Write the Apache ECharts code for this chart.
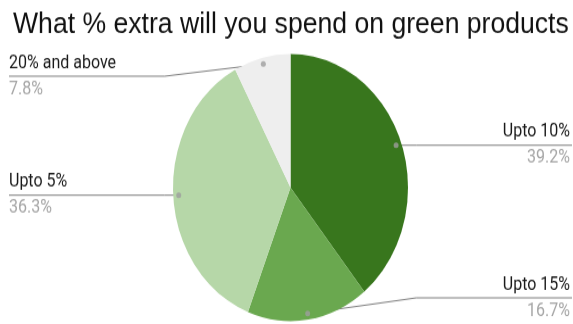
<!DOCTYPE html>
<html>
<head>
<meta charset="utf-8">
<script src="https://cdn.jsdelivr.net/npm/echarts@6/dist/echarts.min.js"></script>
<style>
  html, body { margin: 0; padding: 0; background: #fff; overflow: hidden; }
  #wrap { width: 573px; height: 324px; overflow: hidden; }
  /* chart is laid out at 573x285 and stretched to the page height */
  #chart { width: 573px; height: 285px; transform: scaleY(1.1368); transform-origin: 0 0; }
</style>
</head>
<body>
<div id="wrap"><div id="chart"></div></div>
<script>
const titleText = 'What % extra will you spend on green products';
const categories = ['Upto 10%', 'Upto 15%', 'Upto 5%', '20% and above'];
const shares = [39.2, 16.7, 36.3, 7.8];
const sliceColors = ['#38761d', '#6aa84f', '#b6d7a8', '#eeeeee'];

const W = 573, H = 285;
const CX = 290.5, CY = 165, R = 117.5;
const DOT_R = 0.953;          // leader dots sit just inside the rim
const LABEL_TOP = 44;         // labels stay below the title
const HALF = 23;              // one text row above / below the leader line

const total = shares.reduce((a, b) => a + b, 0);
const mids = [];
let acc = 0;
shares.forEach(v => { mids.push((acc + v / 2) / total * 100); acc += v; });

function dotPoint(i) {
  const t = mids[i] / 100 * Math.PI * 2;
  return [CX + R * DOT_R * Math.sin(t), CY - R * DOT_R * Math.cos(t)];
}

const chart = echarts.init(document.getElementById('chart'), null, { renderer: 'canvas' });
chart.setOption({
  animation: false,
  backgroundColor: '#fff',
  title: {
    text: titleText, left: 8, top: 3,
    textStyle: { fontFamily: 'Liberation Sans, Arial', fontSize: 26.6, fontWeight: 'normal', color: '#111' }
  },
  polar: { center: [CX, CY], radius: R },
  angleAxis: { type: 'value', min: 0, max: 100, startAngle: 90, clockwise: true, show: false },
  radiusAxis: { type: 'value', min: 0, max: 1, show: false },
  series: [
    {
      type: 'pie',
      center: [CX, CY],
      radius: R,
      startAngle: 90,
      clockwise: true,
      avoidLabelOverlap: false,
      data: categories.map((n, i) => ({ name: n, value: shares[i], itemStyle: { color: sliceColors[i] } })),
      itemStyle: { borderWidth: 0 },
      emphasis: { disabled: true },
      label: {
        show: true,
        position: 'outside',
        formatter: p => '{n|' + p.name + '}\n{p|' + p.value + '%}',
        rich: {
          n: { fontFamily: 'Roboto', fontSize: 16, color: '#1a1a1a', lineHeight: HALF },
          p: { fontFamily: 'Roboto', fontSize: 16, color: '#a6a6a6', lineHeight: HALF }
        }
      },
      labelLine: { show: true, length: 10, length2: 10, lineStyle: { color: '#808080', width: 1 } },
      labelLayout: function (params) {
        const i = params.dataIndex;
        const p0 = dotPoint(i);
        const right = p0[0] > CX;
        const y = Math.min(Math.max(p0[1], LABEL_TOP + HALF), H - HALF);
        const bendX = CX + (right ? 1 : -1) * R * 1.07;
        const endX = right ? W - 1 : 9;
        return {
          x: right ? W - 3 : 9,
          y: y,
          align: right ? 'right' : 'left',
          verticalAlign: 'middle',
          labelLinePoints: [p0, [bendX, y], [endX, y]]
        };
      }
    },
    {
      type: 'scatter',
      coordinateSystem: 'polar',
      silent: true,
      symbolSize: 5,
      itemStyle: { color: '#9e9e9e' },
      data: mids.map(m => [DOT_R, m]),
      z: 5
    }
  ]
});
</script>
</body>
</html>
